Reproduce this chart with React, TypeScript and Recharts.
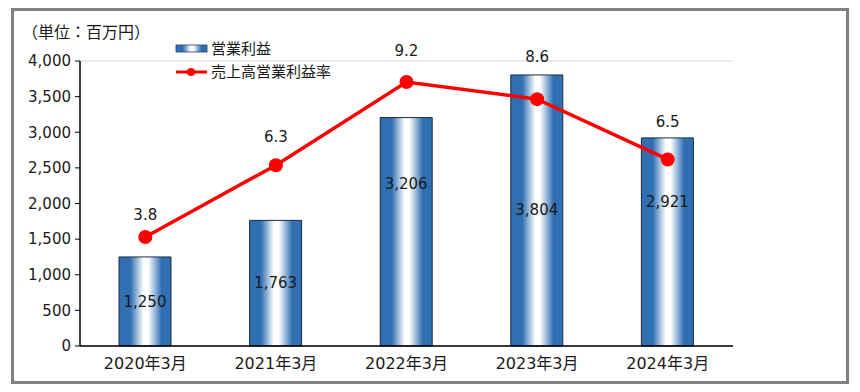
import React from 'react';
import { ComposedChart, Bar, Line, XAxis, YAxis, CartesianGrid, LabelList } from 'recharts';

const categories = ['2020年3月', '2021年3月', '2022年3月', '2023年3月', '2024年3月'];
const operatingProfit = [1250, 1763, 3206, 3804, 2921];
const operatingMargin = [3.8, 6.3, 9.2, 8.6, 6.5];
const leftTicks = [0, 500, 1000, 1500, 2000, 2500, 3000, 3500, 4000];

const data = categories.map((c, i) => ({ name: c, profit: operatingProfit[i], margin: operatingMargin[i] }));

const FONT = "'DejaVu Sans', 'Noto Sans CJK JP', sans-serif";
const BLUE = '#2f6fb2';

// label placement (style, as placed manually in the original)
const barLabelDrop = [45, 63, 66, 135, 64];
const lineLabelRise = [22, 28, 31, 42, 37];

const fmt = (v: number) => v.toLocaleString('en-US');

const BarLabel = (props: any) => {
  const { x, y, width, value, index } = props;
  return (
    <text x={x + width / 2} y={y + barLabelDrop[index]} textAnchor="middle" dominantBaseline="central"
      fontFamily={FONT} fontSize={15} fill="#1a1a1a">{fmt(value)}</text>
  );
};

const LineLabel = (props: any) => {
  const { x, y, value, index } = props;
  return (
    <text x={x} y={y - lineLabelRise[index]} textAnchor="middle" dominantBaseline="central"
      fontFamily={FONT} fontSize={15} fill="#1a1a1a">{value.toFixed(1)}</text>
  );
};

export default function App() {
  return (
    <div style={{ position: 'fixed', left: 0, top: 0, width: 860, height: 392, background: '#fff' }}>
      <div style={{ position: 'absolute', left: 11, top: 8, width: 832, height: 370, border: '3px solid #808080' }} />
      <div style={{ position: 'absolute', left: 22, top: 19, fontFamily: FONT, fontSize: 16, color: '#1a1a1a', whiteSpace: 'nowrap' }}>（単位：百万円）</div>
      <svg style={{ position: 'absolute', left: 0, top: 0 }} width={860} height={392}>
        <defs>
          <linearGradient id="legGrad" x1="0" y1="0" x2="1" y2="0">
            <stop offset="0%" stopColor={BLUE} />
            <stop offset="22%" stopColor={BLUE} />
            <stop offset="47%" stopColor="#ffffff" />
            <stop offset="56%" stopColor="#ffffff" />
            <stop offset="82%" stopColor={BLUE} />
            <stop offset="100%" stopColor={BLUE} />
          </linearGradient>
        </defs>
        <rect x={176} y={45} width={31} height={7} fill="url(#legGrad)" stroke="#1f3f66" strokeWidth={0.8} />
        <text x={211} y={49} dominantBaseline="central" fontFamily={FONT} fontSize={15} fill="#1a1a1a">営業利益</text>
        <line x1={176} y1={72} x2={207} y2={72} stroke="#ff0000" strokeWidth={3} />
        <circle cx={191} cy={72} r={4} fill="#ff0000" />
        <text x={211} y={72} dominantBaseline="central" fontFamily={FONT} fontSize={15} fill="#1a1a1a">売上高営業利益率</text>
      </svg>
      <div style={{ position: 'absolute', left: 0, top: 0 }}>
        <ComposedChart width={860} height={392} data={data} margin={{ top: 61, right: 127, bottom: 0, left: 0 }} barCategoryGap="30%">
          <defs>
            <linearGradient id="barGrad" x1="0" y1="0" x2="1" y2="0">
              <stop offset="0%" stopColor={BLUE} />
              <stop offset="22%" stopColor={BLUE} />
              <stop offset="47%" stopColor="#ffffff" />
              <stop offset="56%" stopColor="#ffffff" />
              <stop offset="82%" stopColor={BLUE} />
              <stop offset="100%" stopColor={BLUE} />
            </linearGradient>
          </defs>
          <CartesianGrid vertical={false} stroke="#d9d9d9" strokeWidth={1} />
          <XAxis dataKey="name" height={46} tickLine={false} axisLine={{ stroke: '#000', strokeWidth: 1.5 }}
            tick={{ fontFamily: FONT, fontSize: 16, fill: '#1a1a1a' }} tickMargin={6} />
          <YAxis yAxisId="left" width={80} domain={[0, 4000]} ticks={leftTicks} tickFormatter={fmt}
            axisLine={{ stroke: '#000', strokeWidth: 1.5 }} tickLine={{ stroke: '#000' }} tickSize={5}
            tick={{ fontFamily: FONT, fontSize: 15, fill: '#1a1a1a' }} tickMargin={4} interval={0} />
          <YAxis yAxisId="right" orientation="right" domain={[0, 9.93]} hide />
          <Bar yAxisId="left" dataKey="profit" fill="url(#barGrad)" stroke="#1a2a40" strokeWidth={1}
            barSize={52} isAnimationActive={false}>
            <LabelList dataKey="profit" content={BarLabel} />
          </Bar>
          <Line yAxisId="right" dataKey="margin" stroke="#ff0000" strokeWidth={3.5}
            dot={{ r: 7, fill: '#ff0000', stroke: '#ff0000', strokeWidth: 0 }} activeDot={false} isAnimationActive={false}>
            <LabelList dataKey="margin" content={LineLabel} />
          </Line>
        </ComposedChart>
      </div>
    </div>
  );
}
